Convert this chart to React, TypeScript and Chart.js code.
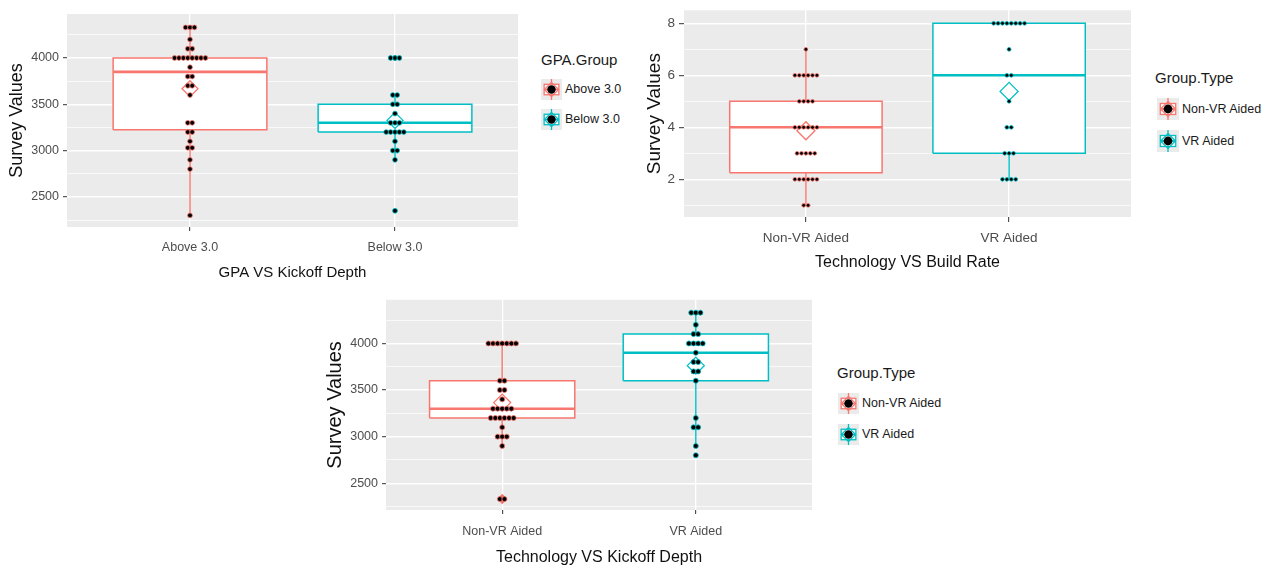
import React, { useEffect, useRef } from "react";
import { Chart, registerables } from "chart.js";

Chart.register(...registerables);

const FONT = "'Liberation Sans', Arial, Helvetica, sans-serif";
const RED = "#F8766D";
const TEAL = "#00BFC4";
const PANEL_BG = "#EBEBEB";
const TICK_TEXT = "#4D4D4D";

// ---------- Panel 1: GPA VS Kickoff Depth ----------
const GPA_GROUPS = ["Above 3.0", "Below 3.0"];
const GPA_ABOVE = [4330, 4330, 4330, 4200, 4100, 4100, 4000, 4000, 4000, 4000, 4000, 4000, 4000, 4000, 3900, 3800, 3800, 3700, 3700, 3600, 3300, 3300, 3200, 3200, 3100, 3030, 3030, 2900, 2800, 2300];
const GPA_BELOW = [4000, 4000, 4000, 3600, 3600, 3500, 3500, 3400, 3300, 3300, 3300, 3200, 3200, 3200, 3200, 3200, 3100, 3000, 3000, 2900, 2350];

// ---------- Panel 2: Technology VS Build Rate ----------
const TECH_GROUPS = ["Non-VR Aided", "VR Aided"];
const BUILD_NONVR = [7, 6, 6, 6, 6, 6, 6, 5, 5, 5, 5, 4, 4, 4, 4, 4, 4, 3, 3, 3, 3, 3, 2, 2, 2, 2, 2, 2, 1, 1];
const BUILD_VR = [8, 8, 8, 8, 8, 8, 8, 8, 7, 6, 6, 5, 4, 4, 3, 3, 3, 2, 2, 2, 2];

// ---------- Panel 3: Technology VS Kickoff Depth ----------
const KICK_NONVR = [4000, 4000, 4000, 4000, 4000, 4000, 4000, 3600, 3600, 3500, 3500, 3400, 3300, 3300, 3300, 3300, 3300, 3200, 3200, 3200, 3200, 3200, 3200, 3100, 3000, 3000, 3000, 2900, 2330, 2330];
const KICK_VR = [4330, 4330, 4330, 4200, 4100, 4100, 4000, 4000, 4000, 4000, 3900, 3800, 3800, 3700, 3700, 3600, 3200, 3100, 3100, 2900, 2800];

// ---------- Axis ticks ----------
const KICKOFF_GRID = [2250, 2500, 2750, 3000, 3250, 3500, 3750, 4000, 4250];
const KICKOFF_LABELS = [2500, 3000, 3500, 4000];
const BUILD_GRID = [1, 2, 3, 4, 5, 6, 7, 8];
const BUILD_LABELS = [2, 4, 6, 8];

const BOX_HALF = 0.375;

function quantile(sorted: number[], p: number) {
  const h = (sorted.length - 1) * p;
  const lo = Math.floor(h);
  const hi = Math.ceil(h);
  return sorted[lo] + (h - lo) * (sorted[hi] - sorted[lo]);
}

function boxStats(values: number[]) {
  const s = [...values].sort((a, b) => a - b);
  const q1 = quantile(s, 0.25);
  const med = quantile(s, 0.5);
  const q3 = quantile(s, 0.75);
  const iqr = q3 - q1;
  const lf = q1 - 1.5 * iqr;
  const uf = q3 + 1.5 * iqr;
  const inside = s.filter((v) => v >= lf && v <= uf);
  return {
    q1, med, q3,
    lo: inside[0],
    hi: inside[inside.length - 1],
    mean: s.reduce((a, b) => a + b, 0) / s.length,
    outliers: s.filter((v) => v < lf || v > uf),
  };
}

function dotPositions(values: number[], x: number, step: number) {
  const counts = new Map<number, number>();
  values.forEach((v) => counts.set(v, (counts.get(v) || 0) + 1));
  const pts: { x: number; y: number }[] = [];
  counts.forEach((n, v) => {
    for (let i = 0; i < n; i++) pts.push({ x: x + (i - (n - 1) / 2) * step, y: v });
  });
  return pts;
}

type PanelCfg = {
  key: string;
  left: number; top: number; width: number; height: number;
  yAxisWidth: number; xAxisHeight: number; padTop: number; padRight: number;
  yMin: number; yMax: number; yGrid: number[]; yLabels: number[];
  categories: string[]; groups: number[][]; colors: string[];
  xTitle: string; yTitle: string;
  yTickFont: number; xTickFont: number; xTitleFont: number; yTitleFont: number;
  xTickPad: number; yTickPad: number; xTitlePad: number; yTitlePad: number;
  tickLen: number;
  dotR: number; dotStep: number; meanR: number; outlierStyle: string; outlierR: number[];
};

const panelBg = {
  id: "panelBg",
  beforeDraw(chart: any) {
    const { ctx, chartArea: a } = chart;
    ctx.save();
    ctx.fillStyle = PANEL_BG;
    ctx.fillRect(a.left, a.top, a.right - a.left, a.bottom - a.top);
    ctx.restore();
  },
};

function buildDatasets(cfg: PanelCfg) {
  const ds: any[] = [];
  cfg.groups.forEach((values, gi) => {
    const x = gi + 1;
    const color = cfg.colors[gi];
    const st = boxStats(values);
    const w = BOX_HALF;
    ds.push({
      type: "line",
      data: [{ x, y: st.q3 }, { x, y: st.hi }, { x, y: null }, { x, y: st.q1 }, { x, y: st.lo }],
      borderColor: color, borderWidth: 1.4, pointRadius: 0, fill: false, spanGaps: false, order: 6,
    });
    ds.push({
      type: "line",
      data: [{ x: x - w, y: st.q1 }, { x: x + w, y: st.q1 }, { x: x + w, y: st.q3 }, { x: x - w, y: st.q3 }, { x: x - w, y: st.q1 }],
      borderColor: color, borderWidth: 1.5, backgroundColor: "#FFFFFF", fill: "shape", pointRadius: 0, order: 5,
    });
    ds.push({
      type: "line",
      data: [{ x: x - w, y: st.med }, { x: x + w, y: st.med }],
      borderColor: color, borderWidth: 2.6, pointRadius: 0, fill: false, order: 4,
    });
    ds.push({
      type: "scatter",
      data: st.outliers.map((v) => ({ x, y: v })),
      pointStyle: cfg.outlierStyle, pointRadius: cfg.outlierR[gi], backgroundColor: color, borderWidth: 0, order: 3,
    });
    ds.push({
      type: "scatter",
      data: [{ x, y: st.mean }],
      pointStyle: "rectRot", pointRadius: cfg.meanR, borderColor: color, borderWidth: 1.3,
      backgroundColor: "rgba(0,0,0,0)", order: 2,
    });
    ds.push({
      type: "scatter",
      data: dotPositions(values, x, cfg.dotStep),
      pointRadius: cfg.dotR, backgroundColor: "#000000", borderColor: color, borderWidth: 0.8, order: 1,
    });
  });
  return ds;
}

function buildConfig(cfg: PanelCfg): any {
  return {
    type: "scatter",
    data: { datasets: buildDatasets(cfg) },
    plugins: [panelBg],
    options: {
      animation: false,
      responsive: false,
      maintainAspectRatio: false,
      events: [],
      layout: { padding: { left: 0, top: cfg.padTop, right: cfg.padRight, bottom: 0 } },
      plugins: { legend: { display: false }, tooltip: { enabled: false } },
      scales: {
        x: {
          type: "linear",
          min: 0.4,
          max: 2.6,
          afterBuildTicks: (ax: any) => {
            ax.ticks = cfg.categories.map((_, i) => ({ value: i + 1 }));
          },
          afterFit: (s: any) => {
            s.height = cfg.xAxisHeight;
            s.paddingLeft = 0;
            s.paddingRight = 0;
          },
          ticks: {
            callback: (v: any) => cfg.categories[Math.round(Number(v)) - 1] ?? "",
            color: TICK_TEXT,
            font: { family: FONT, size: cfg.xTickFont },
            padding: cfg.xTickPad,
            maxRotation: 0,
            autoSkip: false,
          },
          grid: { color: "#FFFFFF", lineWidth: 1.3, tickColor: "#333333", tickLength: cfg.tickLen, tickWidth: 1 },
          border: { display: false },
          title: {
            display: true, text: cfg.xTitle, color: "#111111",
            font: { family: FONT, size: cfg.xTitleFont },
            padding: { top: 0, bottom: cfg.xTitlePad },
          },
        },
        y: {
          type: "linear",
          min: cfg.yMin,
          max: cfg.yMax,
          afterBuildTicks: (ax: any) => {
            ax.ticks = cfg.yGrid.map((v) => ({ value: v }));
          },
          afterFit: (s: any) => {
            s.width = cfg.yAxisWidth;
            s.paddingTop = 0;
            s.paddingBottom = 0;
          },
          ticks: {
            callback: (v: any) => (cfg.yLabels.includes(Number(v)) ? String(v) : ""),
            color: TICK_TEXT,
            font: { family: FONT, size: cfg.yTickFont },
            padding: cfg.yTickPad,
            autoSkip: false,
          },
          grid: {
            color: "#FFFFFF",
            lineWidth: (c: any) => (c.tick && cfg.yLabels.includes(c.tick.value) ? 1.4 : 0.7),
            tickColor: (c: any) => (c.tick && cfg.yLabels.includes(c.tick.value) ? "#333333" : "rgba(0,0,0,0)"),
            tickLength: cfg.tickLen,
            tickWidth: 1,
          },
          border: { display: false },
          title: {
            display: true, text: cfg.yTitle, color: "#111111",
            font: { family: FONT, size: cfg.yTitleFont },
            padding: { top: cfg.yTitlePad, bottom: 0 },
          },
        },
      },
    },
  };
}

const PANELS: PanelCfg[] = [
  {
    key: "gpa",
    left: 0, top: 0, width: 530, height: 290,
    yAxisWidth: 67, xAxisHeight: 63, padTop: 14, padRight: 12,
    yMin: 2175, yMax: 4475, yGrid: KICKOFF_GRID, yLabels: KICKOFF_LABELS,
    categories: GPA_GROUPS, groups: [GPA_ABOVE, GPA_BELOW], colors: [RED, TEAL],
    xTitle: "GPA VS Kickoff Depth", yTitle: "Survey Values",
    yTickFont: 12.5, xTickFont: 12.5, xTitleFont: 15, yTitleFont: 18,
    xTickPad: 9, yTickPad: 4, xTitlePad: 8, yTitlePad: 6, tickLen: 4,
    dotR: 2.4, dotStep: 0.0215, meanR: 8, outlierStyle: "circle", outlierR: [2.5, 2.5],
  },
  {
    key: "build",
    left: 630, top: 0, width: 515, height: 280,
    yAxisWidth: 54, xAxisHeight: 63, padTop: 3, padRight: 14,
    yMin: 0.55, yMax: 8.5, yGrid: BUILD_GRID, yLabels: BUILD_LABELS,
    categories: TECH_GROUPS, groups: [BUILD_NONVR, BUILD_VR], colors: [RED, TEAL],
    xTitle: "Technology VS Build Rate", yTitle: "Survey Values",
    yTickFont: 13.5, xTickFont: 13.5, xTitleFont: 16, yTitleFont: 19,
    xTickPad: 8, yTickPad: 4, xTitlePad: 8, yTitlePad: 13, tickLen: 5,
    dotR: 1.9, dotStep: 0.0217, meanR: 9, outlierStyle: "circle", outlierR: [2.5, 2.5],
  },
  {
    key: "kick",
    left: 300, top: 290, width: 530, height: 278,
    yAxisWidth: 86, xAxisHeight: 58, padTop: 8, padRight: 18,
    yMin: 2213, yMax: 4468, yGrid: KICKOFF_GRID, yLabels: KICKOFF_LABELS,
    categories: TECH_GROUPS, groups: [KICK_NONVR, KICK_VR], colors: [RED, TEAL],
    xTitle: "Technology VS Kickoff Depth", yTitle: "Survey Values",
    yTickFont: 12.5, xTickFont: 12.5, xTitleFont: 16, yTitleFont: 20,
    xTickPad: 10, yTickPad: 4, xTitlePad: 1, yTitlePad: 23, tickLen: 4,
    dotR: 2.5, dotStep: 0.0237, meanR: 8.5, outlierStyle: "rectRot", outlierR: [5, 0],
  },
];

function ChartPanel({ cfg }: { cfg: PanelCfg }) {
  const ref = useRef<HTMLCanvasElement | null>(null);
  useEffect(() => {
    if (!ref.current) return;
    const chart = new Chart(ref.current, buildConfig(cfg));
    return () => chart.destroy();
  }, [cfg]);
  return (
    <div style={{ position: "absolute", left: cfg.left, top: cfg.top, width: cfg.width, height: cfg.height }}>
      <canvas ref={ref} width={cfg.width} height={cfg.height} style={{ width: cfg.width, height: cfg.height, display: "block" }} />
    </div>
  );
}

function KeyGlyph({ color, size }: { color: string; size: number }) {
  const m = size / 2;
  const d = size * 0.34;
  return (
    <svg width={size} height={size} style={{ display: "block" }}>
      <rect x={0} y={0} width={size} height={size} fill="#EBEBEB" />
      <line x1={m} y1={0} x2={m} y2={size} stroke={color} strokeWidth={1.3} />
      <rect x={size * 0.15} y={size * 0.25} width={size * 0.7} height={size * 0.5} fill="#FFFFFF" stroke={color} strokeWidth={1.3} />
      <line x1={size * 0.15} y1={m} x2={size * 0.85} y2={m} stroke={color} strokeWidth={1.8} />
      <polygon points={`${m},${m - d} ${m + d},${m} ${m},${m + d} ${m - d},${m}`} fill="none" stroke={color} strokeWidth={1.2} />
      <circle cx={m} cy={m} r={size * 0.2} fill="#000000" />
    </svg>
  );
}

type LegendCfg = {
  title: string; items: string[]; colors: string[];
  titleLeft: number; titleCenter: number; titleSize: number;
  keyLeft: number; keyCenters: number[]; keySize: number;
  labelLeft: number; labelSize: number;
};

const LEGENDS: LegendCfg[] = [
  {
    title: "GPA.Group", items: GPA_GROUPS, colors: [RED, TEAL],
    titleLeft: 541, titleCenter: 60, titleSize: 15,
    keyLeft: 541, keyCenters: [89, 119], keySize: 21,
    labelLeft: 565, labelSize: 12.5,
  },
  {
    title: "Group.Type", items: TECH_GROUPS, colors: [RED, TEAL],
    titleLeft: 1155, titleCenter: 78, titleSize: 15,
    keyLeft: 1157, keyCenters: [109, 141], keySize: 22,
    labelLeft: 1182, labelSize: 12.5,
  },
  {
    title: "Group.Type", items: TECH_GROUPS, colors: [RED, TEAL],
    titleLeft: 837, titleCenter: 373, titleSize: 15,
    keyLeft: 838, keyCenters: [403, 434], keySize: 21,
    labelLeft: 862, labelSize: 12.5,
  },
];

function Legend({ cfg }: { cfg: LegendCfg }) {
  const lh = (s: number) => Math.round(s * 1.3);
  return (
    <>
      <div
        style={{
          position: "absolute", left: cfg.titleLeft, top: cfg.titleCenter - lh(cfg.titleSize) / 2,
          height: lh(cfg.titleSize), lineHeight: `${lh(cfg.titleSize)}px`, fontSize: cfg.titleSize,
          fontFamily: FONT, color: "#1A1A1A", whiteSpace: "nowrap",
        }}
      >
        {cfg.title}
      </div>
      {cfg.items.map((it, i) => (
        <React.Fragment key={it}>
          <div style={{ position: "absolute", left: cfg.keyLeft, top: cfg.keyCenters[i] - cfg.keySize / 2 }}>
            <KeyGlyph color={cfg.colors[i]} size={cfg.keySize} />
          </div>
          <div
            style={{
              position: "absolute", left: cfg.labelLeft, top: cfg.keyCenters[i] - lh(cfg.labelSize) / 2,
              height: lh(cfg.labelSize), lineHeight: `${lh(cfg.labelSize)}px`, fontSize: cfg.labelSize,
              fontFamily: FONT, color: "#1A1A1A", whiteSpace: "nowrap",
            }}
          >
            {it}
          </div>
        </React.Fragment>
      ))}
    </>
  );
}

export default function App() {
  return (
    <div style={{ position: "absolute", left: 0, top: 0, width: 1268, height: 568, background: "#FFFFFF", overflow: "hidden" }}>
      {PANELS.map((p) => (
        <ChartPanel key={p.key} cfg={p} />
      ))}
      {LEGENDS.map((l, i) => (
        <Legend key={i} cfg={l} />
      ))}
    </div>
  );
}
